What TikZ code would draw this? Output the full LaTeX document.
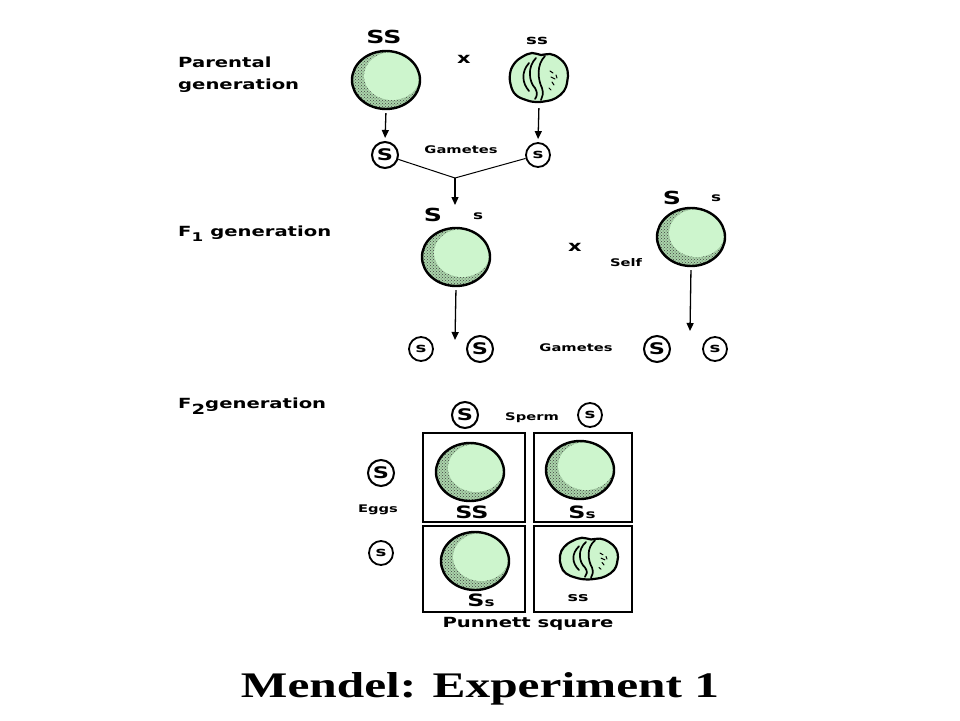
\documentclass[tikz,border=0pt]{standalone}
\usepackage{fontspec}
\newfontfamily\labfam{DejaVu Sans}[FakeStretch=1.4]
\newfontfamily\ttlfam{Liberation Serif}[FakeStretch=1.37]
\usetikzlibrary{arrows.meta,shapes.geometric,patterns}
\newcommand\lfs[1]{\labfam\bfseries\fontsize{#1}{#1}\selectfont}
\definecolor{pealight}{RGB}{205,245,205}
\definecolor{peadark}{RGB}{170,212,170}
\tikzset{
  pea/.style={ellipse, draw, line width=2.4pt, minimum width=68pt, minimum height=58pt, inner sep=0pt, fill=peadark,
    path picture={\fill[pattern=crosshatch dots, pattern color=black!75] (path picture bounding box.center) circle (40pt);
      \fill[pealight] ([shift={(6pt,4pt)}]path picture bounding box.center) ellipse [x radius=28pt, y radius=24pt];}},
  wpea/.style={ellipse, minimum width=60pt, minimum height=52pt, inner sep=0pt},
  gamS/.style={circle, draw, line width=2pt, minimum size=26pt, inner sep=0pt, font=\lfs{16}},
  gams/.style={circle, draw, line width=1.8pt, minimum size=24pt, inner sep=0pt, font=\lfs{13}},
  lbl/.style={inner sep=0pt, align=left, anchor=west, font=\labfam\bfseries\fontsize{14}{22}\selectfont},
  sml/.style={inner sep=0pt, font=\lfs{10.5}},
  arr/.style={line width=1.3pt, -{Triangle[length=8pt,width=7pt]}},
  thinl/.style={line width=1pt},
  cell/.style={draw, line width=2pt, inner sep=0pt},
  wrinkled/.pic={
    \fill[pealight, draw=black, line width=2.2pt] plot[smooth cycle, tension=0.7] coordinates {
      (29,-2) (27,-12) (20,-20) (11,-24) (2,-23) (-7,-25) (-17,-21) (-25,-14) (-29,-4) (-28,8)
      (-23,17) (-13,22) (-3,24) (8,23) (17,20) (25,13) (28,5)};
    \draw[line width=1.7pt, line cap=round] (-10,-15) .. controls (-18,-6) and (-17,5) .. (-10,13);
    \draw[line width=1.7pt, line cap=round] (-3,-20) .. controls (-12,-11) and (-10,4) .. (-4,10) .. controls (-1,15) and (-2,18) .. (-4,21);
    \draw[line width=1.7pt, line cap=round] (6,-22) .. controls (-3,-13) and (-1,2) .. (3,10) .. controls (5,16) and (3,19) .. (2,22);
    \draw[line width=1pt, line cap=round] (11,-7) -- (14,-5) (12,-1) -- (16,1) (13,4) -- (15,7) (17,-3) -- (18,0) (10,10) -- (12,12);
  }
}
\begin{document}
\begin{tikzpicture}[x=1pt,y=-1pt]
\useasboundingbox (0,0) rectangle (960,720);
\fill[white] (0,0) rectangle (960,720);

% Parental generation
\node[lbl] (tpar) at (178,75) {Parental\\generation};
\node[inner sep=0pt, font=\lfs{18}] (lSS) at (384,37) {SS};
\node[pea] (p1) at (386,80) {};
\node[inner sep=0pt, font=\lfs{15}] (x1) at (464,59) {x};
\node[inner sep=0pt, font=\lfs{13}] (lss) at (537,41) {ss};
\node[wpea] (w1) at (539,78) {};
\pic at (w1.center) {wrinkled};

\node[gamS] (g1) at (385,155) {S};
\node[gams] (g2) at (538,155) {s};
\node[sml] (tgam1) at (461,150) {Gametes};
\draw[arr, shorten <=3pt, shorten >=3pt] (p1.south) -- (g1.north);
\draw[arr, shorten <=4pt, shorten >=3pt] (w1.south) -- (g2.north);
\coordinate (j) at (455,178);
\coordinate (j2) at (455,205);
\draw[thinl] (g1) -- (j) -- (g2);
\draw[arr] (j) -- (j2);

% F1 generation
\node[lbl] (tf1) at (178,234) {F\raisebox{-5pt}{\fontsize{12}{12}\selectfont 1}\hspace{7pt}generation};
\node[inner sep=0pt, font=\lfs{18}] (f1S) at (433,215) {S};
\node[inner sep=0pt, font=\lfs{12}] (f1s) at (478,216) {s};
\node[pea] (p3) at (456,257) {};
\node[inner sep=0pt, font=\lfs{15}] (x2) at (575,247) {x};
\node[sml] (tself) at (626,263) {Self};
\node[inner sep=0pt, font=\lfs{18}] (f2S) at (672,198) {S};
\node[inner sep=0pt, font=\lfs{12}] (f2s) at (716,198) {s};
\node[pea] (p4) at (691,237) {};
\coordinate (a3) at (455,340);
\coordinate (a4) at (690,331);
\draw[arr, shorten <=3pt] (p3.south) -- (a3);
\draw[arr, shorten <=3pt] (p4.south) -- (a4);

\node[gams] (g3) at (421,349) {s};
\node[gamS] (g4) at (480,349) {S};
\node[sml] (tgam2) at (576,348) {Gametes};
\node[gamS] (g5) at (657,349) {S};
\node[gams] (g6) at (715,349) {s};

% F2 generation
\node[lbl] (tf2) at (178,406) {F\raisebox{-6pt}{\fontsize{14}{14}\selectfont 2}generation};
\node[gamS] (sp1) at (465,415) {S};
\node[sml] (tsperm) at (532,418) {Sperm};
\node[gams] (sp2) at (590,415) {s};
\node[gamS] (e1) at (381,473) {S};
\node[sml] (teggs) at (378,510) {Eggs};
\node[gams] (e2) at (381,553) {s};

\node[cell, minimum width=102pt, minimum height=89pt] (c11) at (474,477.5) {};
\node[cell, minimum width=98pt, minimum height=89pt] (c12) at (583,477.5) {};
\node[cell, minimum width=102pt, minimum height=86pt] (c21) at (474,569) {};
\node[cell, minimum width=98pt, minimum height=86pt] (c22) at (583,569) {};

\node[pea] (q11) at (470,472) {};
\node[pea] (q12) at (580,470) {};
\node[pea] (q21) at (475,561) {};
\node[wpea] (q22) at (589,559) {};
\pic[yscale=0.85] at (q22.center) {wrinkled};

\node[inner sep=0pt, font=\lfs{17}] (lq11) at (472,512) {SS};
\node[inner sep=0pt, anchor=base] (lq12) at (582,518) {\lfs{17}S\lfs{12}s};
\node[inner sep=0pt, anchor=base] (lq21) at (481,606) {\lfs{17}S\lfs{12}s};
\node[inner sep=0pt, font=\lfs{12.5}] (lq22) at (578,598) {ss};
\node[inner sep=0pt, font=\lfs{14}] (tpun) at (528,624) {Punnett square};

% Title
\node[inner sep=0pt, font=\ttlfam\bfseries\fontsize{36}{36}\selectfont] (title) at (480,689) {Mendel: Experiment 1};
\end{tikzpicture}
\end{document}
